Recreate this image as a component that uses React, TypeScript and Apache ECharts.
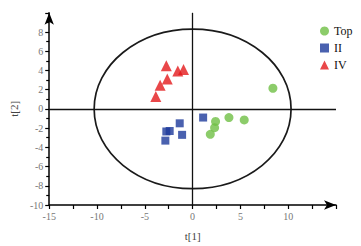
import React, { useEffect, useRef } from "react";
import * as echarts from "echarts";

const topPoints: number[][] = [
  [8.4, 2.15],
  [3.8, -0.9],
  [5.4, -1.15],
  [2.4, -1.3],
  [2.3, -1.95],
  [1.85, -2.65],
];
const iiPoints: number[][] = [
  [1.1, -0.9],
  [-2.75, -2.35],
  [-2.4, -2.3],
  [-2.85, -3.3],
  [-1.35, -1.5],
  [-1.1, -2.7],
];
const ivPoints: number[][] = [
  [-2.75, 4.5],
  [-1.55, 3.95],
  [-0.95, 4.1],
  [-2.65, 3.1],
  [-3.4, 2.45],
  [-3.85, 1.3],
];
const ellipse: number[][] = [[0, 0, 10.3, 8.3]];
const serif = "'Liberation Serif', 'DejaVu Serif', serif";

export default function App() {
  const ref = useRef<HTMLDivElement>(null);
  useEffect(() => {
    const chart = echarts.init(ref.current!, null, { renderer: "svg" });
    chart.setOption({
      animation: false,
      backgroundColor: "#ffffff",
      grid: { left: 43.5, right: 25, top: 12.8, bottom: 38.3 },
      legend: {
        orient: "vertical",
        left: 315,
        top: 20,
        itemWidth: 9,
        itemHeight: 9,
        itemGap: 5,
        textStyle: { fontFamily: serif, fontSize: 12, color: "#111" },
        data: ["Top", "II", "IV"],
      },
      xAxis: {
        type: "value",
        min: -15,
        max: 15,
        interval: 5,
        name: "t[1]",
        nameLocation: "middle",
        nameGap: 25,
        nameTextStyle: { fontFamily: serif, fontSize: 11, color: "#444" },
        splitLine: { show: false },
        axisLine: {
          onZero: false,
          symbol: ["none", "arrow"],
          symbolSize: [7, 12],
          lineStyle: { color: "#000", width: 1.5 },
        },
        axisTick: { length: 4, lineStyle: { color: "#000", width: 1.2 } },
        minorTick: { show: true, splitNumber: 2, length: 4, lineStyle: { color: "#000", width: 1.2 } },
        axisLabel: {
          fontFamily: serif,
          fontSize: 10,
          color: "#777",
          margin: 6,
          showMaxLabel: false,
        },
      },
      yAxis: {
        type: "value",
        min: -10,
        max: 10,
        interval: 2,
        name: "t[2]",
        nameLocation: "middle",
        nameGap: 27,
        nameTextStyle: { fontFamily: serif, fontSize: 11, color: "#444" },
        splitLine: { show: false },
        axisLine: {
          onZero: false,
          symbol: ["none", "arrow"],
          symbolSize: [7, 12],
          lineStyle: { color: "#000", width: 1.5 },
        },
        axisTick: { length: 4, lineStyle: { color: "#000", width: 1.2 } },
        minorTick: { show: true, splitNumber: 2, length: 3, lineStyle: { color: "#000", width: 1.2 } },
        axisLabel: {
          fontFamily: serif,
          fontSize: 10,
          color: "#777",
          margin: 6,
          showMaxLabel: false,
        },
      },
      series: [
        {
          type: "custom",
          silent: true,
          data: ellipse,
          z: 1,
          renderItem: (params: any, api: any) => {
            const c = api.coord([api.value(0), api.value(1)]);
            const s = api.size([api.value(2), api.value(3)]);
            return {
              type: "ellipse",
              shape: { cx: c[0], cy: c[1], rx: s[0], ry: s[1] },
              style: { fill: "none", stroke: "#1a1a1a", lineWidth: 1.7 },
            };
          },
        },
        {
          type: "line",
          silent: true,
          data: [],
          markLine: {
            silent: true,
            symbol: "none",
            label: { show: false },
            lineStyle: { color: "#111", width: 1.3, type: "solid" },
            data: [{ xAxis: 0 }, { yAxis: 0 }],
          },
        },
        {
          name: "Top",
          type: "scatter",
          symbol: "circle",
          symbolSize: 9,
          itemStyle: { color: "#6fbf45" },
          data: topPoints,
          z: 3,
        },
        {
          name: "II",
          type: "scatter",
          symbol: "rect",
          symbolSize: 8,
          itemStyle: { color: "#1d3a9b" },
          data: iiPoints,
          z: 3,
        },
        {
          name: "IV",
          type: "scatter",
          symbol: "triangle",
          symbolSize: 11,
          itemStyle: { color: "#e3191b" },
          data: ivPoints,
          z: 3,
        },
      ],
    });
    return () => chart.dispose();
  }, []);
  return (
    <div
      ref={ref}
      style={{ position: "absolute", left: 0, top: 0, width: 361, height: 246 }}
    />
  );
}
